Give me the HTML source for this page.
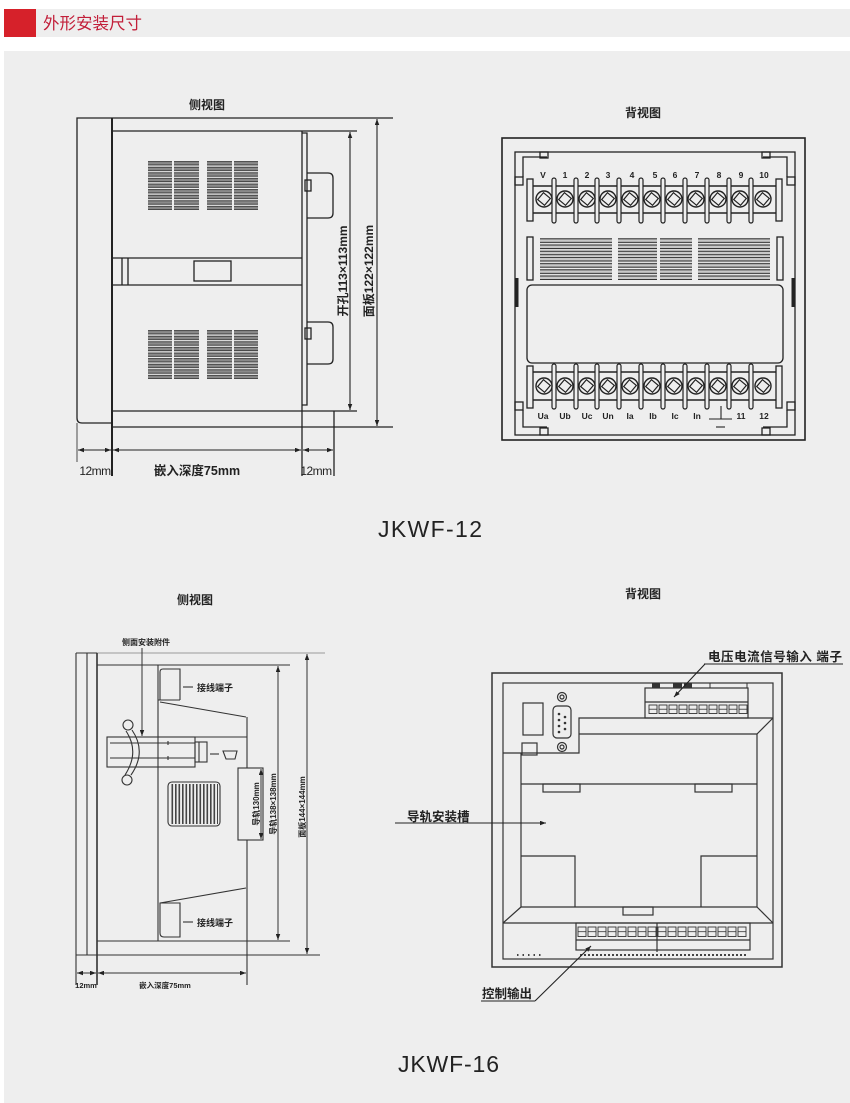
<!DOCTYPE html>
<html><head><meta charset="utf-8"><title>外形安装尺寸</title><style>
html,body{margin:0;padding:0;background:#fff;width:850px;height:1103px;overflow:hidden}
svg{display:block}
text{font-family:"Liberation Sans","Noto Sans CJK SC",sans-serif;fill:#222}
.b{font-weight:bold}
</style></head><body>
<svg width="850" height="1103" viewBox="0 0 850 1103" xmlns="http://www.w3.org/2000/svg">
<defs>
<marker id="ar" viewBox="0 0 8 6" refX="8" refY="3" markerWidth="6" markerHeight="4.5" markerUnits="userSpaceOnUse" orient="auto-start-reverse"><path d="M0,0L8,3L0,6z" fill="#222"/></marker>
<pattern id="s1" x="0" y="161" width="10" height="5.6" patternUnits="userSpaceOnUse"><rect x="-1" y="0.6" width="12" height="3.4" fill="#8a8a8a" stroke="#222" stroke-width="0.8"/></pattern>
<pattern id="s2" x="0" y="330" width="10" height="5.6" patternUnits="userSpaceOnUse"><rect x="-1" y="0.6" width="12" height="3.4" fill="#8a8a8a" stroke="#222" stroke-width="0.8"/></pattern>
<pattern id="s3" x="0" y="238" width="10" height="6.2" patternUnits="userSpaceOnUse"><rect x="-1" y="0.8" width="12" height="3.6" fill="#c8c8c8" stroke="#222" stroke-width="1"/></pattern>
<pattern id="vs" x="168" y="0" width="3.5" height="10" patternUnits="userSpaceOnUse"><rect x="0" y="-1" width="1.6" height="12" fill="#444"/></pattern>
<pattern id="sqA" x="648" y="704.5" width="10" height="10" patternUnits="userSpaceOnUse"><rect x="1" y="0.5" width="8" height="8.5" fill="none" stroke="#333" stroke-width="0.9"/><line x1="1" y1="4.7" x2="9" y2="4.7" stroke="#333" stroke-width="0.8"/></pattern>
<pattern id="sqB" x="577" y="926.5" width="10" height="11" patternUnits="userSpaceOnUse"><rect x="1" y="0.5" width="8" height="9.5" fill="none" stroke="#333" stroke-width="0.9"/><line x1="1" y1="5.2" x2="9" y2="5.2" stroke="#333" stroke-width="0.8"/></pattern>
<g id="sc"><circle r="8" fill="#eee" stroke="#222" stroke-width="1.4"/><rect x="-4.5" y="-4.5" width="9" height="9" transform="rotate(40)" fill="none" stroke="#222" stroke-width="1.2"/></g>
<rect id="sp" x="-2" y="0" width="4" height="45" rx="2" fill="#eee" stroke="#222" stroke-width="1.2"/>
</defs>

<!-- header -->
<rect x="36" y="9" width="814" height="28" fill="#eeeeee"/>
<rect x="4" y="9" width="32" height="28" fill="#d6212a"/>
<text x="43" y="29" font-size="16.5" style="fill:#c21f3a">外形安装尺寸</text>

<!-- panel -->
<rect x="4" y="51" width="846" height="1052" fill="#eeeeee"/>

<!-- ============ JKWF-12 side view ============ -->
<text x="207" y="109" font-size="12" class="b" text-anchor="middle">侧视图</text>
<g stroke="#222" stroke-width="1.3" fill="none">
<path d="M112,118 L77,118 L77,418 Q77,423 82,423 L112,423"/>
<line x1="112" y1="118" x2="393" y2="118"/>
<line x1="112" y1="427" x2="393" y2="427"/>
<line x1="112" y1="118" x2="112" y2="476" stroke-width="2"/>
<line x1="77" y1="423" x2="77" y2="462" stroke-width="0.8"/>
<line x1="112" y1="131" x2="357" y2="131"/>
<line x1="112" y1="411" x2="357" y2="411"/>
<line x1="302" y1="131" x2="302" y2="476"/>
<line x1="334" y1="411" x2="334" y2="476"/>
<path d="M302,133 L307,133 L307,405 L302,405"/>
<path d="M307,173 L328,173 Q333,173 333,178 L333,213 Q333,218 328,218 L307,218"/>
<rect x="305" y="180" width="6" height="11"/>
<path d="M307,322 L328,322 Q333,322 333,327 L333,359 Q333,364 328,364 L307,364"/>
<rect x="305" y="328" width="6" height="11"/>
<line x1="112" y1="258" x2="302" y2="258"/>
<line x1="112" y1="285" x2="302" y2="285"/>
<line x1="122" y1="258" x2="122" y2="285"/>
<line x1="128" y1="258" x2="128" y2="285"/>
<rect x="194" y="261" width="37" height="20"/>
</g>
<g>
<rect x="148" y="161" width="24" height="49" fill="url(#s1)"/>
<rect x="174" y="161" width="25" height="49" fill="url(#s1)"/>
<rect x="207" y="161" width="25" height="49" fill="url(#s1)"/>
<rect x="234" y="161" width="24" height="49" fill="url(#s1)"/>
<rect x="148" y="330" width="24" height="49" fill="url(#s2)"/>
<rect x="174" y="330" width="25" height="49" fill="url(#s2)"/>
<rect x="207" y="330" width="25" height="49" fill="url(#s2)"/>
<rect x="234" y="330" width="24" height="49" fill="url(#s2)"/>
</g>
<g stroke="#222" stroke-width="1.1" fill="none">
<line x1="350" y1="132" x2="350" y2="410" marker-start="url(#ar)" marker-end="url(#ar)"/>
<line x1="377" y1="119" x2="377" y2="426" marker-start="url(#ar)" marker-end="url(#ar)"/>
<line x1="78" y1="450" x2="111" y2="450" marker-start="url(#ar)" marker-end="url(#ar)"/>
<line x1="113" y1="450" x2="301" y2="450" marker-start="url(#ar)" marker-end="url(#ar)"/>
<line x1="303" y1="450" x2="333" y2="450" marker-start="url(#ar)" marker-end="url(#ar)"/>
</g>
<text transform="translate(347,271) rotate(-90)" font-size="12" class="b" text-anchor="middle">开孔113×113mm</text>
<text transform="translate(373,271) rotate(-90)" font-size="12" class="b" text-anchor="middle">面板122×122mm</text>
<text x="95" y="475" font-size="12" text-anchor="middle" letter-spacing="-0.5">12mm</text>
<text x="197" y="475" font-size="12.5" class="b" text-anchor="middle">嵌入深度75mm</text>
<text x="316" y="475" font-size="12" text-anchor="middle" letter-spacing="-0.5">12mm</text>

<!-- ============ JKWF-12 back view ============ -->
<text x="643" y="117" font-size="12" class="b" text-anchor="middle">背视图</text>
<g stroke="#222" stroke-width="1.3" fill="none">
<rect x="502" y="138" width="303" height="302" stroke-width="1.6"/>
<rect x="515" y="152" width="280" height="283"/>
<path d="M547,157 L523,157 L523,177"/><rect x="515" y="177" width="8" height="8"/><rect x="540" y="152" width="8" height="6"/>
<path d="M763,157 L787,157 L787,177"/><rect x="787" y="177" width="8" height="8"/><rect x="762" y="152" width="8" height="6"/>
<path d="M547,427 L523,427 L523,410"/><rect x="515" y="402" width="8" height="8"/><rect x="540" y="428" width="8" height="7"/>
<path d="M763,427 L787,427 L787,410"/><rect x="787" y="402" width="8" height="8"/><rect x="762" y="428" width="8" height="7"/>
<rect x="527" y="179" width="6" height="42"/><rect x="776" y="179" width="6" height="42"/>
<line x1="533" y1="186" x2="776" y2="186" stroke-width="1.6"/>
<line x1="533" y1="213" x2="776" y2="213" stroke-width="1.6"/>
<rect x="527" y="366" width="6" height="42"/><rect x="776" y="366" width="6" height="42"/>
<line x1="533" y1="372" x2="776" y2="372" stroke-width="1.6"/>
<line x1="533" y1="400" x2="776" y2="400" stroke-width="1.6"/>
<rect x="527" y="237" width="6" height="43"/><rect x="777" y="237" width="6" height="43"/>
<rect x="527" y="285" width="256" height="78" rx="5"/>
</g>
<rect x="515" y="278" width="3.5" height="29" fill="#222"/>
<rect x="791.5" y="278" width="3.5" height="29" fill="#222"/>
<rect x="540" y="238" width="72" height="42" fill="url(#s3)"/>
<rect x="618" y="238" width="39" height="42" fill="url(#s3)"/>
<rect x="660" y="238" width="32" height="42" fill="url(#s3)"/>
<rect x="698" y="238" width="72" height="42" fill="url(#s3)"/>
<use href="#sp" x="554" y="178"/><use href="#sp" x="576" y="178"/><use href="#sp" x="597" y="178"/><use href="#sp" x="619" y="178"/><use href="#sp" x="641" y="178"/>
<use href="#sp" x="663" y="178"/><use href="#sp" x="685" y="178"/><use href="#sp" x="707" y="178"/><use href="#sp" x="729" y="178"/><use href="#sp" x="751" y="178"/>
<use href="#sp" x="554" y="364"/><use href="#sp" x="576" y="364"/><use href="#sp" x="597" y="364"/><use href="#sp" x="619" y="364"/><use href="#sp" x="641" y="364"/>
<use href="#sp" x="663" y="364"/><use href="#sp" x="685" y="364"/><use href="#sp" x="707" y="364"/><use href="#sp" x="729" y="364"/><use href="#sp" x="751" y="364"/>
<use href="#sc" x="544" y="199"/><use href="#sc" x="565" y="199"/><use href="#sc" x="587" y="199"/><use href="#sc" x="608" y="199"/><use href="#sc" x="630" y="199"/><use href="#sc" x="652" y="199"/>
<use href="#sc" x="674" y="199"/><use href="#sc" x="696" y="199"/><use href="#sc" x="718" y="199"/><use href="#sc" x="740" y="199"/><use href="#sc" x="763" y="199"/>
<use href="#sc" x="544" y="386"/><use href="#sc" x="565" y="386"/><use href="#sc" x="587" y="386"/><use href="#sc" x="608" y="386"/><use href="#sc" x="630" y="386"/><use href="#sc" x="652" y="386"/>
<use href="#sc" x="674" y="386"/><use href="#sc" x="696" y="386"/><use href="#sc" x="718" y="386"/><use href="#sc" x="740" y="386"/><use href="#sc" x="763" y="386"/>
<g font-size="8.5" class="b" text-anchor="middle">
<text x="543" y="178">V</text><text x="565" y="178">1</text><text x="587" y="178">2</text><text x="608" y="178">3</text><text x="632" y="178">4</text><text x="655" y="178">5</text>
<text x="675" y="178">6</text><text x="697" y="178">7</text><text x="719" y="178">8</text><text x="741" y="178">9</text><text x="764" y="178">10</text>
<text x="543" y="419">Ua</text><text x="565" y="419">Ub</text><text x="587" y="419">Uc</text><text x="608" y="419">Un</text><text x="630" y="419">Ia</text><text x="653" y="419">Ib</text>
<text x="675" y="419">Ic</text><text x="697" y="419">In</text><text x="741" y="419">11</text><text x="764" y="419">12</text>
</g>
<g stroke="#222" stroke-width="1.1">
<line x1="721" y1="406" x2="721" y2="419"/>
<line x1="709" y1="419" x2="732" y2="419"/>
<line x1="716" y1="427" x2="725" y2="427"/>
</g>
<text x="378" y="537" font-size="23" textLength="104" lengthAdjust="spacing">JKWF-12</text>

<!-- ============ JKWF-16 side view ============ -->
<text x="195" y="604" font-size="12" class="b" text-anchor="middle">侧视图</text>
<text x="146" y="645" font-size="8" class="b" text-anchor="middle">侧面安装附件</text>
<g stroke="#999" stroke-width="1" fill="none">
<line x1="97" y1="653" x2="325" y2="653"/>
</g>
<g stroke="#333" stroke-width="1.1" fill="none">
<line x1="76" y1="653" x2="97" y2="653"/>
<line x1="76" y1="653" x2="76" y2="985"/>
<line x1="87" y1="653" x2="87" y2="955"/>
<line x1="97" y1="653" x2="97" y2="985" stroke-width="1.6"/>
<line x1="76" y1="955" x2="320" y2="955"/>
<line x1="97" y1="665" x2="290" y2="665"/>
<line x1="97" y1="941" x2="290" y2="941"/>
<line x1="158" y1="665" x2="158" y2="941"/>
<path d="M160,700 L160,672 Q160,669 163,669 L180,669 L180,700"/>
<line x1="158" y1="700" x2="180" y2="700"/>
<line x1="183" y1="687" x2="193" y2="687"/>
<line x1="160" y1="702" x2="246" y2="717"/>
<line x1="247" y1="717" x2="247" y2="768"/>
<line x1="107" y1="737" x2="247" y2="737"/>
<line x1="160" y1="903" x2="246" y2="888"/>
<line x1="247" y1="840" x2="247" y2="985"/>
<rect x="107" y="737" width="88" height="30"/>
<line x1="110" y1="743" x2="195" y2="743"/>
<line x1="110" y1="758" x2="195" y2="758"/>
<line x1="168" y1="741" x2="168" y2="745"/>
<line x1="168" y1="756" x2="168" y2="760"/>
<rect x="195" y="742" width="12" height="20"/>
<line x1="199" y1="742" x2="199" y2="762"/>
<line x1="210" y1="754" x2="219" y2="754"/>
<path d="M223,751 L237,751 L235,759 L226,759 Z"/>
<circle cx="128" cy="725" r="5"/>
<circle cx="127" cy="780" r="5"/>
<path d="M126,731 Q140,752 125,775"/>
<path d="M132,730 Q147,752 131,775"/>
<rect x="238" y="768" width="25" height="72"/>
<rect x="168" y="782" width="52" height="44" rx="4"/>
<path d="M160,903 L180,903 L180,937 L164,937 Q160,937 160,933 Z"/>
<line x1="183" y1="922" x2="193" y2="922"/>
</g>
<rect x="170" y="784" width="48" height="40" fill="url(#vs)"/>
<g stroke="#333" stroke-width="1" fill="none">
<line x1="142" y1="648" x2="142" y2="736" marker-end="url(#ar)"/>
<line x1="261" y1="769" x2="261" y2="839" marker-start="url(#ar)" marker-end="url(#ar)"/>
<line x1="278" y1="666" x2="278" y2="940" marker-start="url(#ar)" marker-end="url(#ar)"/>
<line x1="307" y1="654" x2="307" y2="954" marker-start="url(#ar)" marker-end="url(#ar)"/>
<line x1="77" y1="973" x2="96" y2="973" marker-start="url(#ar)" marker-end="url(#ar)"/>
<line x1="98" y1="973" x2="246" y2="973" marker-start="url(#ar)" marker-end="url(#ar)"/>
</g>
<text x="197" y="691" font-size="9" class="b">接线端子</text>
<text x="197" y="926" font-size="9" class="b">接线端子</text>
<text transform="translate(259,804) rotate(-90)" font-size="8" class="b" text-anchor="middle">导轨130mm</text>
<text transform="translate(276,804) rotate(-90)" font-size="8" class="b" text-anchor="middle">导轨138×138mm</text>
<text transform="translate(305,807) rotate(-90)" font-size="8" class="b" text-anchor="middle">面板144×144mm</text>
<text x="86" y="988" font-size="7.5" class="b" text-anchor="middle">12mm</text>
<text x="165" y="988" font-size="7.5" class="b" text-anchor="middle">嵌入深度75mm</text>

<!-- ============ JKWF-16 back view ============ -->
<text x="643" y="598" font-size="12" class="b" text-anchor="middle">背视图</text>
<g stroke="#333" stroke-width="1.2" fill="none">
<rect x="492" y="673" width="290" height="294" stroke-width="1.5"/>
<rect x="503" y="683" width="270" height="276"/>
<path d="M503,753 L579,753 L579,718 L773,718"/>
<line x1="521" y1="753" x2="521" y2="907"/>
<path d="M579,734 L757,734 L757,907"/>
<line x1="757" y1="734" x2="773" y2="718"/>
<line x1="521" y1="784" x2="757" y2="784"/>
<rect x="543" y="784" width="37" height="8"/>
<rect x="695" y="784" width="37" height="8"/>
<path d="M521,856 L575,856 L575,907"/>
<path d="M757,856 L701,856 L701,907"/>
<line x1="521" y1="907" x2="757" y2="907"/>
<rect x="623" y="907" width="30" height="8"/>
<line x1="521" y1="907" x2="503" y2="923"/>
<line x1="757" y1="907" x2="773" y2="923"/>
<line x1="503" y1="923" x2="773" y2="923"/>
<rect x="576" y="923" width="174" height="27"/>
<line x1="657" y1="923" x2="657" y2="952"/>
<line x1="576" y1="940" x2="750" y2="940"/>
<rect x="645" y="688" width="103" height="30"/>
<line x1="645" y1="702" x2="748" y2="702"/>
<rect x="523" y="703" width="20" height="32"/>
<rect x="522" y="743" width="15" height="12"/>
<rect x="553" y="706" width="18" height="32" rx="4"/>
<circle cx="562" cy="697" r="4.5"/><circle cx="562" cy="697" r="2"/>
<circle cx="562" cy="747" r="4.5"/><circle cx="562" cy="747" r="2"/>
</g>
<g fill="#333">
<rect x="652" y="683" width="8" height="5"/><rect x="673" y="683" width="9" height="5"/><rect x="684" y="683" width="8" height="5"/>
<rect x="710" y="683" width="37" height="5" fill="none" stroke="#333"/>
<circle cx="559" cy="714" r="1.3"/><circle cx="559" cy="720" r="1.3"/><circle cx="559" cy="726" r="1.3"/><circle cx="559" cy="732" r="1.3"/>
<circle cx="565" cy="717" r="1.3"/><circle cx="565" cy="723" r="1.3"/><circle cx="565" cy="729" r="1.3"/>
</g>
<rect x="648" y="704.5" width="100" height="10" fill="url(#sqA)"/>
<rect x="577" y="926.5" width="170" height="11" fill="url(#sqB)"/>
<line x1="580" y1="955" x2="747" y2="955" stroke="#444" stroke-width="2" stroke-dasharray="2,2"/>
<line x1="517" y1="955" x2="543" y2="955" stroke="#444" stroke-width="2" stroke-dasharray="1.5,4"/>
<text x="708" y="661" font-size="12.5" class="b" textLength="134" lengthAdjust="spacing">电压电流信号输入 端子</text>
<g stroke="#222" stroke-width="1.1" fill="none">
<line x1="704" y1="664" x2="843" y2="664"/>
<line x1="705" y1="664" x2="674" y2="697" marker-end="url(#ar)"/>
<line x1="395" y1="823" x2="546" y2="823" marker-end="url(#ar)"/>
<line x1="481" y1="1001" x2="535" y2="1001"/>
<line x1="535" y1="1001" x2="591" y2="946" marker-end="url(#ar)"/>
</g>
<text x="407" y="821" font-size="12.5" class="b">导轨安装槽</text>
<text x="482" y="998" font-size="12.5" class="b">控制输出</text>

<text x="398" y="1072" font-size="23" textLength="101" lengthAdjust="spacing">JKWF-16</text>
</svg>
</body></html>
